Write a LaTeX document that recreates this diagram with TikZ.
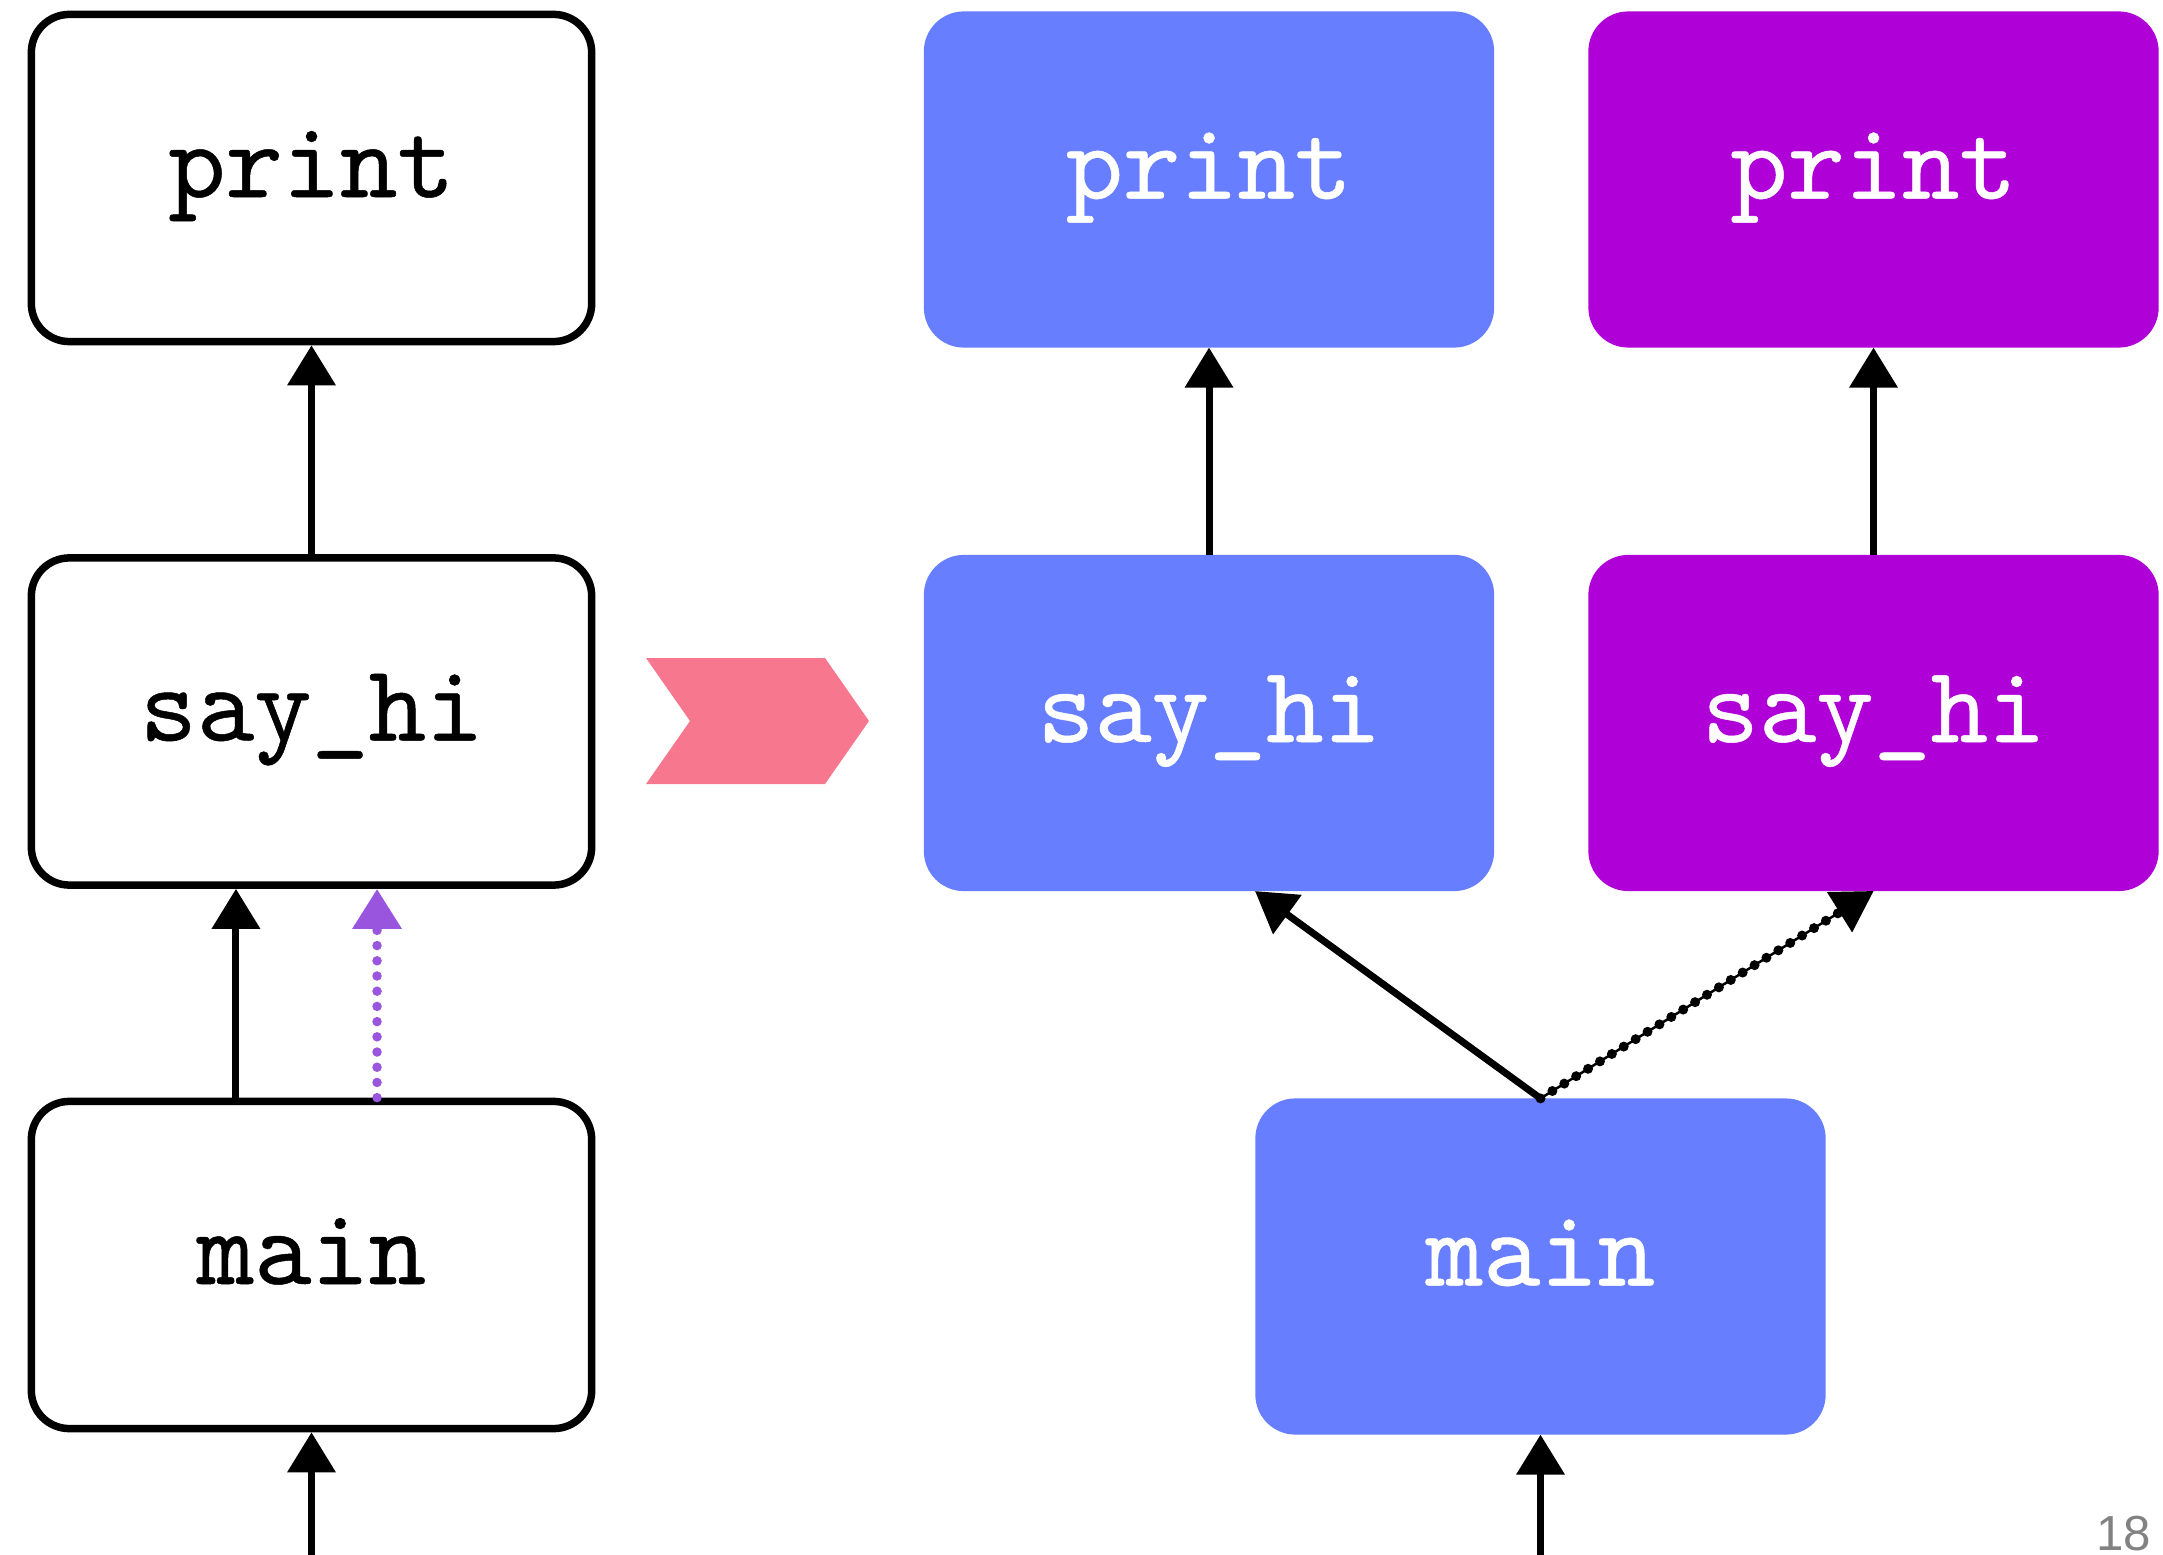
\documentclass[tikz,border=0pt]{standalone}
\usepackage{fontspec}
\newfontfamily\codefont{lmmono10-regular}[Extension=.otf,FakeBold=0.45]
\newfontfamily\pagefont{Liberation Sans}
\usetikzlibrary{arrows.meta}
\definecolor{fnblue}{RGB}{102,126,255}
\definecolor{fnpurple}{RGB}{176,0,216}
\definecolor{chev}{RGB}{247,120,142}
\definecolor{dotpurple}{RGB}{153,85,221}
\definecolor{pagegray}{RGB}{130,130,130}
\begin{document}
\begin{tikzpicture}[x=0.01cm,y=-0.01cm,
  codetext/.style={text height=0.52cm, text depth=0.14cm, inner sep=0pt,
    font=\codefont\fontsize{31}{31}\selectfont},
  lbox/.style={codetext, draw=black, line width=0.075cm, rounded corners=0.38cm,
    minimum width=5.6cm, minimum height=3.27cm},
  fnbox/.style={codetext, rounded corners=0.4cm, outer sep=0pt, text=white,
    minimum width=5.70cm, minimum height=3.36cm},
  tip/.style={-{Triangle[width=0.47cm,length=0.40cm]}},
  arr/.style={tip, line width=0.07cm},
]
\useasboundingbox (0,0) rectangle (2163,1555);

% left column
\node[lbox] (lprint) at (311.5,178) {print};
\node[lbox] (lsay) at (311.5,721.5) {say\_hi};
\node[lbox] (lmain) at (311.5,1265) {main};

% right side
\node[fnbox, fill=fnblue] (bprint) at (1209,179.5) {print};
\node[fnbox, fill=fnpurple] (pprint) at (1873.5,179.5) {print};
\node[fnbox, fill=fnblue] (bsay) at (1209,723) {say\_hi};
\node[fnbox, fill=fnpurple] (psay) at (1873.5,723) {say\_hi};
\node[fnbox, fill=fnblue] (rmain) at (1540.5,1266.5) {main};

% chevron
\fill[chev] (646,658) -- (825,658) -- (869,721) -- (825,784) -- (646,784) -- (690,721) -- cycle;

% left arrows
\draw[arr] (lsay.north) -- (lprint.south);
\draw[arr] ([xshift=-0.755cm]lmain.north) -- ([xshift=-0.755cm]lsay.south);
\draw[dotpurple, line width=0.095cm, dash pattern=on 0pt off 0.152cm, line cap=round, tip]
  ([xshift=0.655cm]lmain.north) -- ([xshift=0.655cm]lsay.south);
\coordinate (lin) at (311.5,1565);
\draw[arr] (lin) -- (lmain.south);

% right arrows
\draw[arr] (bsay.north) -- (bprint.south);
\draw[arr] (psay.north) -- (pprint.south);
\draw[arr] (rmain.north) -- ([xshift=0.46cm]bsay.south);
\draw[line width=0.025cm, tip] (rmain.north) -- (psay.south);
\draw[line width=0.1cm, dash pattern=on 0pt off 0.14cm, line cap=round, shorten >=0.42cm]
  (rmain.north) -- (psay.south);
\coordinate (rin) at (1540.5,1565);
\draw[arr] (rin) -- (rmain.south);

% page number
\node[font=\pagefont\fontsize{14}{14}\selectfont, text=pagegray, anchor=base east, inner sep=0pt]
  (pnum) at (2152,1550) {18};
\end{tikzpicture}
\end{document}
